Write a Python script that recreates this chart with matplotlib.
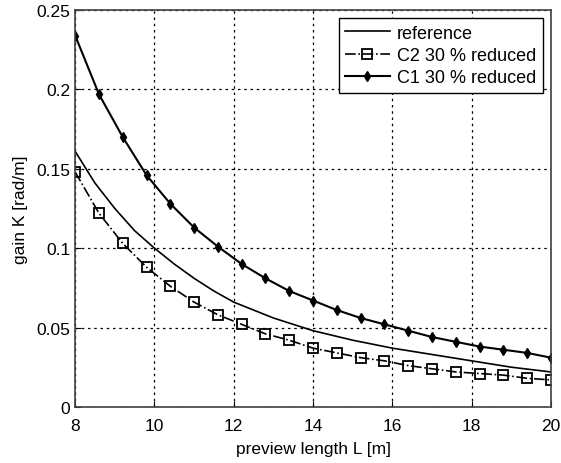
import matplotlib
matplotlib.use("Agg")
import matplotlib.pyplot as plt

plt.rcParams['font.family'] = ['Liberation Sans', 'DejaVu Sans']

# preview lengths where the markers sit
L_marks = [8.0, 8.6, 9.2, 9.8, 10.4, 11.0, 11.6, 12.2, 12.8, 13.4, 14.0,
           14.6, 15.2, 15.8, 16.4, 17.0, 17.6, 18.2, 18.8, 19.4, 20.0]
c2_gain = [0.148, 0.122, 0.103, 0.088, 0.076, 0.066, 0.058, 0.052, 0.046, 0.042, 0.037,
           0.034, 0.031, 0.029, 0.026, 0.024, 0.022, 0.021, 0.020, 0.018, 0.017]
c1_gain = [0.234, 0.197, 0.170, 0.146, 0.128, 0.113, 0.101, 0.090, 0.081, 0.073, 0.067,
           0.061, 0.056, 0.052, 0.048, 0.044, 0.041, 0.038, 0.036, 0.034, 0.031]

# reference curve (no markers)
L_ref = [8.0, 8.5, 9.0, 9.5, 10.0, 10.5, 11.0, 11.5, 12.0, 13.0, 14.0,
         15.0, 16.0, 17.0, 18.0, 19.0, 20.0]
ref_gain = [0.161, 0.141, 0.125, 0.111, 0.100, 0.090, 0.081, 0.073, 0.066, 0.056, 0.048,
            0.042, 0.037, 0.033, 0.029, 0.025, 0.022]

fig = plt.figure(figsize=(5.61, 4.64), dpi=100)
ax = fig.add_axes([0.134, 0.121, 0.848, 0.855])

ax.plot(L_ref, ref_gain, '-', color='black', lw=1.2, label='reference')
ax.plot(L_marks, c2_gain, '-.', color='black', lw=1.2, marker='s', ms=7.5,
        mfc='none', mec='black', mew=1.3, label='C2 30 % reduced')
ax.plot(L_marks, c1_gain, '-', color='black', lw=1.5, marker='d', ms=5.5,
        mfc='black', mec='black', label='C1 30 % reduced')

ax.set_xlim(8, 20)
ax.set_ylim(0, 0.25)
ax.set_xticks([8, 10, 12, 14, 16, 18, 20])
ax.set_yticks([0, 0.05, 0.1, 0.15, 0.2, 0.25])
ax.set_yticklabels(['0', '0.05', '0.1', '0.15', '0.2', '0.25'])
ax.grid(True, linestyle=(0, (2, 3)), color='black', lw=0.9)
ax.tick_params(direction='in', labelsize=12.5, length=4)
ax.tick_params(axis='x', pad=8)
for s in ax.spines.values():
    s.set_color('#404040')
    s.set_linewidth(1.2)

ax.set_xlabel('preview length L [m]', fontsize=12.5, labelpad=6)
ax.set_ylabel('gain K [rad/m]', fontsize=12.5, labelpad=6)

leg = ax.legend(loc='upper right', fontsize=13, fancybox=False, framealpha=1,
                edgecolor='black', borderaxespad=0.45, handlelength=2.5,
                borderpad=0.35, labelspacing=0.3, handletextpad=0.4)
leg.get_frame().set_linewidth(1.0)

fig.savefig('out.png', dpi=100)
